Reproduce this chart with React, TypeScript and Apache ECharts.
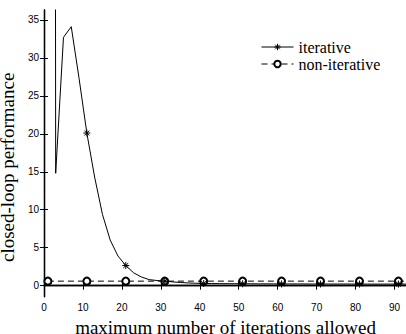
import React, { useEffect, useRef } from "react";
import * as echarts from "echarts";

const iterX = [1, 3, 5, 7, 9, 11, 13, 15, 17, 19, 21, 23, 25, 27, 29, 31, 33, 35, 37, 39, 41, 43, 45, 47, 49, 51, 53, 55, 57, 59, 61, 63, 65, 67, 69, 71, 73, 75, 77, 79, 81, 83, 85, 87, 89, 91, 93, 95];
const iterY = [1000, 14.8, 32.7, 34.1, 27.3, 20.1, 14.3, 9.4, 6.0, 3.9, 2.65, 1.7, 1.15, 0.8, 0.68, 0.6, 0.5, 0.42, 0.36, 0.32, 0.29, 0.28, 0.27, 0.26, 0.26, 0.25, 0.25, 0.24, 0.24, 0.24, 0.23, 0.23, 0.23, 0.23, 0.22, 0.22, 0.22, 0.22, 0.22, 0.22, 0.21, 0.21, 0.21, 0.21, 0.21, 0.21, 0.21, 0.21];
const iterMarkerX = [1, 11, 21, 31, 41, 51, 61, 71, 81, 91];

const nonIterX = [1, 11, 21, 31, 41, 51, 61, 71, 81, 91, 101];
const nonIterY = [0.6, 0.6, 0.6, 0.6, 0.6, 0.6, 0.6, 0.6, 0.6, 0.6, 0.6];

const yTicks = [0, 5, 10, 15, 20, 25, 30, 35];
const xTickInterval = 10;

const seriesNames = ["iterative", "non-iterative"];
const xName = "maximum number of iterations allowed";
const yName = "closed-loop performance";

const STAR = "path://M5 0 L5 10 M0 5 L10 5 M1.5 1.5 L8.5 8.5 M8.5 1.5 L1.5 8.5";
const SANS = "Liberation Sans";
const SERIF = "Liberation Serif";

export default function App() {
  const ref = useRef<HTMLDivElement>(null);
  useEffect(() => {
    document.body.style.margin = "0";
    const chart = echarts.init(ref.current!, undefined, { renderer: "svg" });
    const axisLine = { show: true, lineStyle: { color: "#000", width: 1.3 } };
    const tickStyle = { show: true, inside: true, length: 4, lineStyle: { color: "#000", width: 1 } };
    const labelFont = { color: "#000", fontFamily: SANS, fontSize: 10 };
    const xMin = 0, xMax = 93.2, yMin = -1.45, yMax = 36.3;
    chart.setOption({
      animation: false,
      backgroundColor: "#fff",
      textStyle: { fontFamily: SERIF },
      grid: { left: 44, top: 10, width: 363, height: 286.7, containLabel: false, outerBoundsMode: "none" },
      legend: {
        orient: "vertical",
        left: 261,
        top: 39,
        itemWidth: 32,
        itemHeight: 8,
        itemGap: 1,
        padding: 0,
        data: seriesNames,
        lineStyle: { width: 1 },
        itemStyle: { borderWidth: 1 },
        textStyle: { color: "#000", fontFamily: SERIF, fontSize: 16, lineHeight: 16 },
      },
      xAxis: [
        {
          type: "value", position: "bottom", min: xMin, max: xMax, interval: xTickInterval,
          axisLine, axisTick: tickStyle, splitLine: { show: false },
          axisLabel: { ...labelFont, margin: 6, showMaxLabel: false },
          name: xName, nameLocation: "middle", nameGap: 16,
          nameTextStyle: { color: "#000", fontFamily: SERIF, fontSize: 19 },
        },
        {
          type: "value", position: "top", min: xMin, max: xMax, interval: xTickInterval,
          axisLine, axisTick: tickStyle, splitLine: { show: false }, axisLabel: { show: false },
        },
      ],
      yAxis: [
        {
          type: "value", position: "left", min: yMin, max: yMax,
          axisLine, axisTick: { ...tickStyle, customValues: yTicks }, splitLine: { show: false },
          axisLabel: { ...labelFont, margin: 5, customValues: yTicks },
          name: yName + "{sp|}", nameLocation: "middle", nameGap: 12,
          nameTextStyle: {
            color: "#000", fontFamily: SERIF, fontSize: 19,
            rich: { sp: { width: 28 } },
          },
        },
        {
          type: "value", position: "right", min: yMin, max: yMax,
          axisLine, axisTick: { ...tickStyle, customValues: yTicks }, splitLine: { show: false },
          axisLabel: { show: false, customValues: yTicks },
        },
      ],
      series: [
        {
          name: seriesNames[0],
          type: "line",
          symbol: STAR,
          symbolSize: 7,
          showAllSymbol: true,
          itemStyle: { color: "#000", borderColor: "#000", borderWidth: 1 },
          lineStyle: { color: "#000", width: 1 },
          data: iterX.map((x, i) => ({
            value: [x, iterY[i]],
            symbol: iterMarkerX.includes(x) ? STAR : "none",
          })),
          z: 3,
        },
        {
          name: seriesNames[1],
          type: "line",
          symbol: "emptyCircle",
          symbolSize: 7,
          showAllSymbol: true,
          itemStyle: { color: "#000", borderColor: "#000", borderWidth: 0.8 },
          lineStyle: { color: "#000", width: 1, type: [6, 4] },
          data: nonIterX.map((x, i) => [x, nonIterY[i]]),
          z: 2,
        },
      ],
    });
    return () => chart.dispose();
  }, []);
  return <div ref={ref} style={{ width: 406, height: 334 }} />;
}
